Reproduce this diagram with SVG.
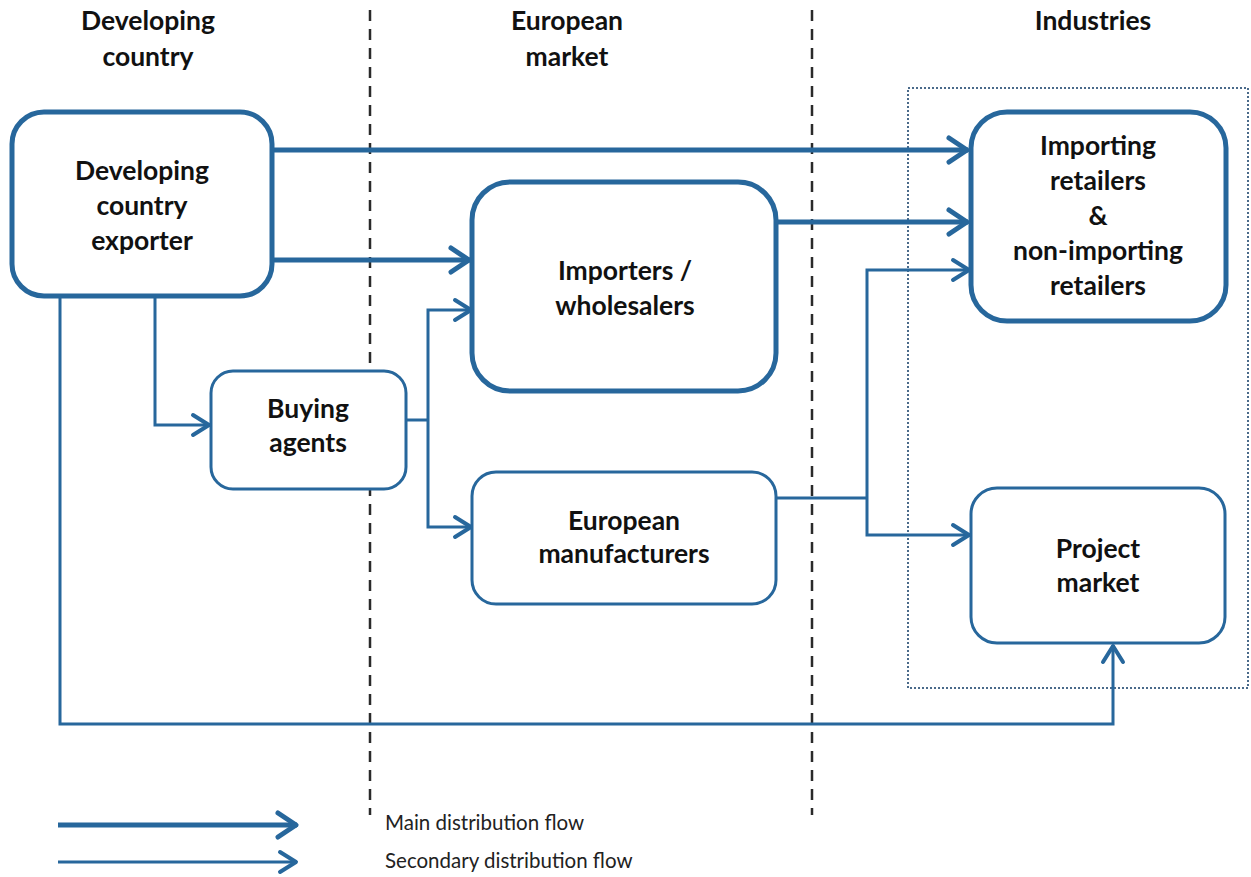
<svg xmlns="http://www.w3.org/2000/svg" width="1251" height="877" viewBox="0 0 1251 877">
<style>
.box{fill:#fff;stroke:#27679c;}
.thick{stroke-width:5;}
.thin{stroke-width:3;}
.lbl{font-family:Lato,"Liberation Sans",sans-serif;font-weight:700;font-size:26.5px;fill:#111;text-anchor:middle;dominant-baseline:central;}
.main{fill:none;stroke:#27679c;stroke-width:5;marker-end:url(#ahMain);}
.sec{fill:none;stroke:#27679c;stroke-width:3;}
.secA{fill:none;stroke:#27679c;stroke-width:3;marker-end:url(#ahSec);}
.div{stroke:#2a2a2a;stroke-width:2.5;stroke-dasharray:11 8;fill:none;}
.leg{font-family:Lato,"Liberation Sans",sans-serif;font-size:20.5px;fill:#222;dominant-baseline:central;}
</style>
<defs>
<marker id="ahMain" markerUnits="userSpaceOnUse" viewBox="0 0 24 30" refX="22" refY="15" markerWidth="24" markerHeight="30" orient="auto">
<path d="M3,3 L21,15 L3,27" fill="none" stroke="#27679c" stroke-width="5" stroke-linecap="round" stroke-linejoin="round"/>
</marker>
<marker id="ahSec" markerUnits="userSpaceOnUse" viewBox="0 0 22 26" refX="20" refY="13" markerWidth="22" markerHeight="26" orient="auto">
<path d="M3,3 L19,13 L3,23" fill="none" stroke="#27679c" stroke-width="4" stroke-linecap="round" stroke-linejoin="round"/>
</marker>
</defs>
<rect width="1251" height="877" fill="#fff"/>

<g id="headers">
<text class="lbl" x="148" y="20">Developing</text>
<text class="lbl" x="148" y="56">country</text>
<text class="lbl" x="567" y="20">European</text>
<text class="lbl" x="567" y="56">market</text>
<text class="lbl" x="1093" y="20">Industries</text>
</g>

<g id="dividers">
<line class="div" x1="370" y1="10" x2="370" y2="815"/>
<line class="div" x1="812" y1="10" x2="812" y2="815"/>
</g>

<rect id="industries-area" x="908" y="88" width="340" height="600" fill="none" stroke="#4a6a8a" stroke-width="2" stroke-dasharray="2 2"/>

<g id="connectors">
<path class="main" d="M272,150 H968"/>
<path class="main" d="M272,260 H470"/>
<path class="main" d="M776,222 H968"/>
<path class="secA" d="M155,296 V425 H210"/>
<path class="sec" d="M405,420 H428"/>
<path class="secA" d="M428,420 V310 H472"/>
<path class="secA" d="M428,420 V527 H472"/>
<path class="sec" d="M776,498 H867"/>
<path class="secA" d="M867,498 V270 H970"/>
<path class="secA" d="M867,498 V535 H970"/>
<path class="secA" d="M60,296 V724 H1113 V645"/>
</g>

<g id="exporter">
<rect class="box thick" x="12" y="112" width="260" height="184" rx="32"/>
<text class="lbl" x="142" y="170">Developing</text>
<text class="lbl" x="142" y="205">country</text>
<text class="lbl" x="142" y="240">exporter</text>
</g>

<g id="importers">
<rect class="box thick" x="472" y="182" width="304" height="209" rx="38"/>
<text class="lbl" x="625" y="270">Importers /</text>
<text class="lbl" x="625" y="305">wholesalers</text>
</g>

<g id="retailers">
<rect class="box thick" x="971" y="112" width="255" height="209" rx="36"/>
<text class="lbl" x="1098" y="145">Importing</text>
<text class="lbl" x="1098" y="180">retailers</text>
<text class="lbl" x="1098" y="215">&amp;</text>
<text class="lbl" x="1098" y="250">non-importing</text>
<text class="lbl" x="1098" y="285">retailers</text>
</g>

<g id="buying-agents">
<rect class="box thin" x="211" y="371" width="195" height="118" rx="22"/>
<text class="lbl" x="308" y="408">Buying</text>
<text class="lbl" x="308" y="442">agents</text>
</g>

<g id="manufacturers">
<rect class="box thin" x="472" y="472" width="304" height="132" rx="24"/>
<text class="lbl" x="624" y="520">European</text>
<text class="lbl" x="624" y="553">manufacturers</text>
</g>

<g id="project-market">
<rect class="box thin" x="971" y="488" width="254" height="155" rx="26"/>
<text class="lbl" x="1098" y="548">Project</text>
<text class="lbl" x="1098" y="582">market</text>
</g>

<g id="legend">
<path class="main" d="M58,825 H297"/>
<path class="secA" d="M58,862 H297"/>
<text class="leg" x="385" y="822">Main distribution flow</text>
<text class="leg" x="385" y="860">Secondary distribution flow</text>
</g>
</svg>
